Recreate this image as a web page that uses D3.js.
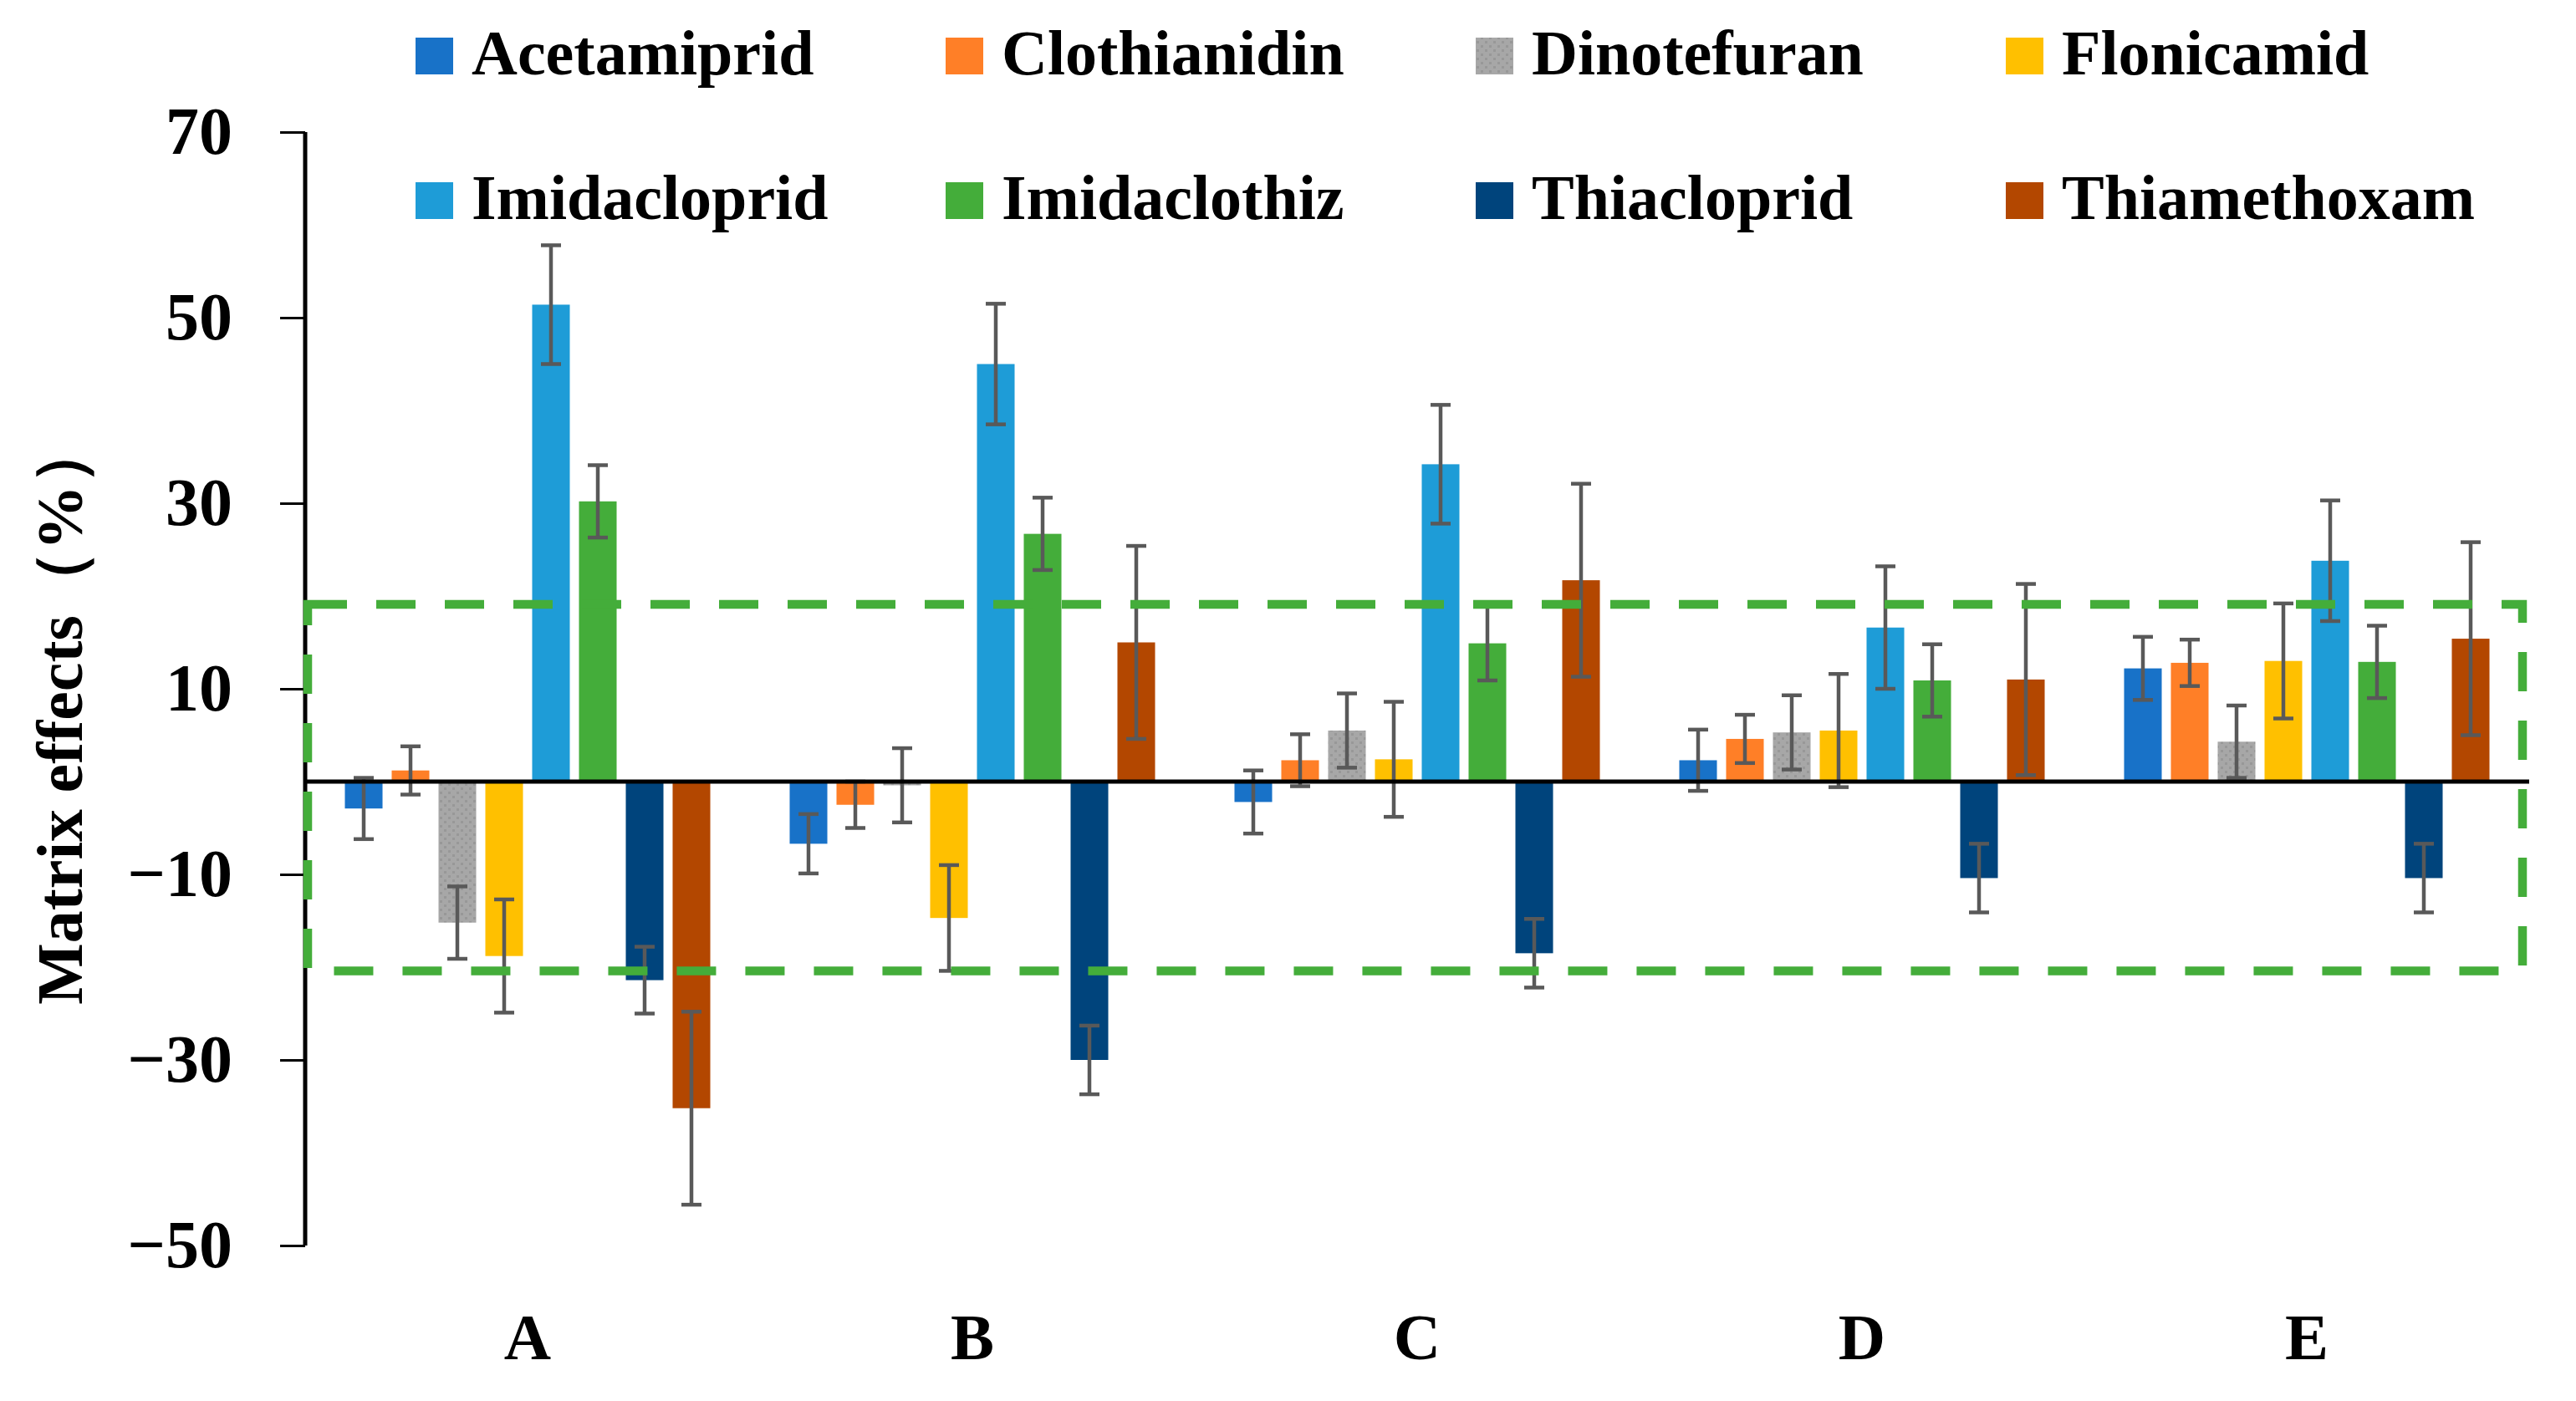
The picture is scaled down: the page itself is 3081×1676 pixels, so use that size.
<!DOCTYPE html>
<html>
<head>
<meta charset="utf-8">
<script src="https://cdn.jsdelivr.net/npm/d3@7/dist/d3.min.js"></script>
<style>
  body { margin: 0; background: #fff; }
  text { font-family: "Liberation Serif", "Times New Roman", serif; font-weight: bold; }
</style>
</head>
<body>
<div id="main"></div>
<script>

// groups on the x axis
var groups = ["A", "B", "C", "D", "E"];

var pesticides = ["Acetamiprid", "Clothianidin", "Dinotefuran", "Flonicamid",
                  "Imidacloprid", "Imidaclothiz", "Thiacloprid", "Thiamethoxam"];

var colors = ["#1872C8", "#FF7F27", "#A5A5A5", "#FFC000",
              "#1E9CD7", "#44AD3A", "#00447C", "#B34700"];

// mean matrix effect (%) per pesticide, one value per group A..E
var acetamiprid  = [-2.9, -6.7, -2.2,   2.3, 12.2];
var clothianidin = [ 1.2, -2.5,  2.3,   4.6, 12.8];
var dinotefuran  = [-15.2, -0.4, 5.5,   5.3,  4.3];
var flonicamid   = [-18.8, -14.7, 2.4,  5.5, 13.0];
var imidacloprid = [51.4, 45.0, 34.2,  16.6, 23.8];
var imidaclothiz = [30.2, 26.7, 14.9,  10.9, 12.9];
var thiacloprid  = [-21.4, -30.0, -18.5, -10.4, -10.4];
var thiamethoxam = [-35.2, 15.0, 21.7,  11.0, 15.4];

// error bar half widths
var errAcetamiprid  = [3.3, 3.2, 3.4, 3.3, 3.4];
var errClothianidin = [2.6, 2.5, 2.8, 2.6, 2.5];
var errDinotefuran  = [3.9, 4.0, 4.0, 4.0, 3.9];
var errFlonicamid   = [6.1, 5.7, 6.2, 6.1, 6.2];
var errImidacloprid = [6.4, 6.5, 6.4, 6.6, 6.5];
var errImidaclothiz = [3.9, 3.9, 4.0, 3.9, 3.9];
var errThiacloprid  = [3.6, 3.7, 3.7, 3.7, 3.7];
var errThiamethoxam = [10.4, 10.4, 10.4, 10.3, 10.4];

var yTicks = [-50, -30, -10, 10, 30, 50, 70];

// limits of the green dashed acceptance box
var boxLimits = [-20.4, 19.1];

var means = [acetamiprid, clothianidin, dinotefuran, flonicamid,
             imidacloprid, imidaclothiz, thiacloprid, thiamethoxam];
var errs = [errAcetamiprid, errClothianidin, errDinotefuran, errFlonicamid,
            errImidacloprid, errImidaclothiz, errThiacloprid, errThiamethoxam];

var rows = [];
groups.forEach(function(g, gi){
  pesticides.forEach(function(p, pi){
    rows.push({group: g, name: p, value: means[pi][gi], err: errs[pi][gi], color: colors[pi]});
  });
});

var svg = d3.select('#main')
  .append('svg')
  .attr("width", 3081)
  .attr("height", 1676);

var defs = svg.append('defs');
var pat = defs.append('pattern')
  .attr('id', 'speckle')
  .attr('patternUnits', 'userSpaceOnUse')
  .attr('width', 10)
  .attr('height', 10);
pat.append('rect').attr('width', 10).attr('height', 10).attr('fill', '#A7A7A7');
pat.append('rect').attr('x', 1).attr('y', 2).attr('width', 3).attr('height', 3).attr('fill', '#989898');
pat.append('rect').attr('x', 6).attr('y', 7).attr('width', 3).attr('height', 3).attr('fill', '#989898');

var y = d3.scaleLinear().domain([-50, 70]).range([1490, 158]);
var x0 = d3.scaleBand().domain(groups).range([365, 3025]);
var x1 = d3.scaleBand().domain(pesticides).range([0, x0.bandwidth()])
  .paddingInner(0.196).paddingOuter(0.848);

// bars
svg.append('g').selectAll('rect')
  .data(rows)
  .enter()
  .append('rect')
  .attr('x', d => x0(d.group) + x1(d.name))
  .attr('width', x1.bandwidth())
  .attr('y', d => y(Math.max(0, d.value)))
  .attr('height', d => Math.abs(y(d.value) - y(0)))
  .attr('fill', d => d.name == "Dinotefuran" ? "url(#speckle)" : d.color);

// error bars
var eb = svg.append('g')
  .style('stroke', '#595959')
  .style('stroke-width', 4.5);

var cx = d => x0(d.group) + x1(d.name) + x1.bandwidth() / 2;

eb.selectAll('line.v').data(rows).enter().append('line')
  .attr('class', 'v')
  .attr('x1', cx).attr('x2', cx)
  .attr('y1', d => y(d.value + d.err))
  .attr('y2', d => y(d.value - d.err));

eb.selectAll('line.t').data(rows).enter().append('line')
  .attr('class', 't')
  .attr('x1', d => cx(d) - 12).attr('x2', d => cx(d) + 12)
  .attr('y1', d => y(d.value + d.err)).attr('y2', d => y(d.value + d.err));

eb.selectAll('line.b').data(rows).enter().append('line')
  .attr('class', 'b')
  .attr('x1', d => cx(d) - 12).attr('x2', d => cx(d) + 12)
  .attr('y1', d => y(d.value - d.err)).attr('y2', d => y(d.value - d.err));

// zero line
svg.append('line')
  .attr('x1', 365).attr('x2', 3025)
  .attr('y1', y(0)).attr('y2', y(0))
  .style('stroke', 'black')
  .style('stroke-width', 5);

// y axis
var yAxis = svg.append('g')
  .attr('transform', 'translate(365,0)')
  .call(d3.axisLeft(y).tickValues(yTicks).tickSize(30).tickPadding(57));

yAxis.select('.domain')
  .attr('d', 'M0,' + y(70) + 'V' + y(-50))
  .style('stroke', 'black')
  .style('stroke-width', 5);
yAxis.selectAll('.tick line')
  .style('stroke', 'black')
  .style('stroke-width', 3);
yAxis.selectAll('.tick text')
  .style('font-size', '80px')
  .style('font-family', '"Liberation Serif", serif')
  .style('font-weight', 'bold')
  .attr('fill', 'black');

// group labels
svg.append('g').selectAll('text')
  .data(groups)
  .enter()
  .append('text')
  .text(d => d)
  .attr('x', d => x0(d) + x0.bandwidth() / 2)
  .attr('y', 1626)
  .attr('text-anchor', 'middle')
  .style('font-size', '78px');

// y title
svg.append('text')
  .text("Matrix effects（%）")
  .attr('transform', 'translate(98,852)rotate(-90)')
  .attr('text-anchor', 'middle')
  .style('font-size', '78px');

// acceptance box
svg.append('rect')
  .attr('x', 368)
  .attr('y', y(boxLimits[1]))
  .attr('width', 3017 - 368)
  .attr('height', y(boxLimits[0]) - y(boxLimits[1]))
  .attr('fill', 'none')
  .style('stroke', '#44AD3A')
  .style('stroke-width', 10.5)
  .style('stroke-dasharray', '47,35');

// legend, 4 columns x 2 rows
var legend = svg.append('g').selectAll('g')
  .data(pesticides)
  .enter()
  .append('g')
  .attr('transform', (d, i) => 'translate(' + (497 + (i % 4) * 634) + ',' + (67 + Math.floor(i / 4) * 173) + ')');

legend.append('rect')
  .attr('x', 0).attr('y', -22)
  .attr('width', 45).attr('height', 44)
  .attr('fill', (d, i) => d == "Dinotefuran" ? "url(#speckle)" : colors[i]);

legend.append('text')
  .text(d => d)
  .attr('x', 67)
  .attr('y', 22)
  .style('font-size', '76px');

</script>
</body>
</html>
